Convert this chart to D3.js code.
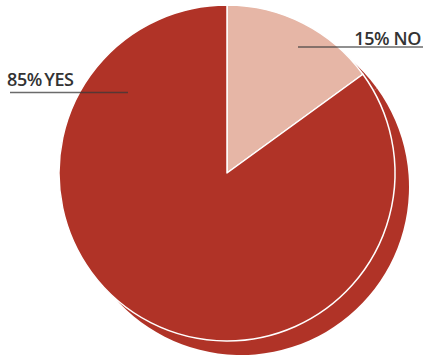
<!DOCTYPE html>
<html>
<head>
<meta charset="utf-8">
<script src="https://cdn.jsdelivr.net/npm/d3@7"></script>
<style>
  html, body { margin: 0; padding: 0; background: #fff; }
  svg { display: block; }
</style>
</head>
<body>
<svg id="chart" width="423" height="355"></svg>
<script>
// Survey answers, in drawing order (clockwise from 12 o'clock)
const categories = ["NO", "YES"];
const values = [15, 85];
const labels = ["15% NO", "85% YES"];

const W = 423, H = 355;
const cx = 227, cy = 173, R = 168;
const depth = 14;

const color = d3.scaleOrdinal()
  .domain(categories)
  .range(["#e6b6a6", "#b03327"]);

const svg = d3.select("#chart");

const pie = d3.pie().sort(null).value(d => d.value);
const arcs = pie(categories.map((c, i) => ({ cat: c, value: values[i], label: labels[i] })));
const arc = d3.arc().innerRadius(0).outerRadius(R);

// Offset backing disc that gives the pie its raised look
svg.append("g")
  .attr("transform", `translate(${cx + depth},${cy + depth})`)
  .selectAll("path")
  .data(arcs)
  .join("path")
  .attr("d", arc)
  .attr("fill", color("YES"));

// Main pie with white separators
svg.append("g")
  .attr("transform", `translate(${cx},${cy})`)
  .selectAll("path")
  .data(arcs)
  .join("path")
  .attr("d", arc)
  .attr("fill", d => color(d.data.cat))
  .attr("stroke", "#fff")
  .attr("stroke-width", 1.5)
  .attr("stroke-linejoin", "round");

// Callout labels with underline leaders
const callouts = [
  { cat: "NO",  x1: 298, x2: 423, ly: 47, tx: 421, ty: 45, anchor: "end", ws: 0 },
  { cat: "YES", x1: 10,  x2: 128, ly: 92.5, tx: 7, ty: 86, anchor: "start", ws: -2 }
];

const lab = svg.append("g");
callouts.forEach(c => {
  const d = arcs.find(a => a.data.cat === c.cat);
  lab.append("line")
    .attr("x1", c.x1).attr("x2", c.x2)
    .attr("y1", c.ly).attr("y2", c.ly)
    .attr("stroke", "#3a3a3a")
    .attr("stroke-opacity", 0.75)
    .attr("stroke-width", 1.4);
  lab.append("text")
    .attr("x", c.tx).attr("y", c.ty)
    .attr("text-anchor", c.anchor)
    .attr("font-family", "'Open Sans', sans-serif")
    .attr("font-weight", 600)
    .attr("font-size", 18)
    .attr("letter-spacing", -0.4)
    .attr("word-spacing", c.ws)
    .attr("fill", "#333")
    .text(d.data.label);
});
</script>
</body>
</html>
